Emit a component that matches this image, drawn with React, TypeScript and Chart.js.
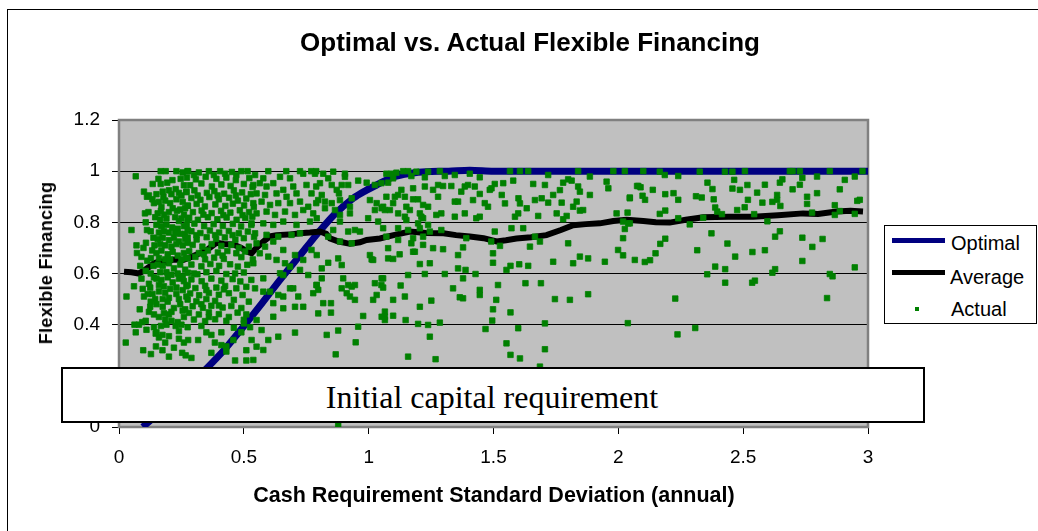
import React, { useEffect, useRef } from "react";
import { Chart, registerables } from "chart.js";

Chart.register(...registerables);

const titleText = "Optimal vs. Actual Flexible Financing";
const xTitle = "Cash Requirement Standard Deviation (annual)";
const yTitle = "Flexible Financing";
const boxText = "Initial capital requirement";

const xTickValues = [0, 0.5, 1, 1.5, 2, 2.5, 3];
const xTickLabels = ["0", "0.5", "1", "1.5", "2", "2.5", "3"];
const yTickValues = [0, 0.2, 0.4, 0.6, 0.8, 1, 1.2];
const yTickLabels = ["0", "0.2", "0.4", "0.6", "0.8", "1", "1.2"];

const optimalX = [0.095, 0.2, 0.3, 0.356, 0.42, 0.498, 0.57, 0.645, 0.72, 0.79, 0.86, 0.938, 0.99, 1.03, 1.1, 1.17, 1.23, 1.32, 1.405, 1.5, 2.0, 2.5, 3.0];
const optimalY = [0.0, 0.09, 0.18, 0.234, 0.3, 0.392, 0.48, 0.575, 0.665, 0.75, 0.828, 0.894, 0.925, 0.945, 0.978, 0.992, 0.998, 1.0, 1.004, 1.0, 1.0, 1.0, 1.0];

const averageX = [0.02, 0.05, 0.08, 0.1, 0.12, 0.14, 0.164, 0.19, 0.22, 0.257, 0.29, 0.324, 0.35, 0.39, 0.42, 0.458, 0.49, 0.515, 0.531, 0.55, 0.578, 0.605, 0.631, 0.68, 0.725, 0.765, 0.805, 0.83, 0.845, 0.88, 0.925, 0.965, 0.992, 1.045, 1.1, 1.165, 1.23, 1.3, 1.35, 1.405, 1.46, 1.512, 1.55, 1.592, 1.65, 1.712, 1.77, 1.819, 1.87, 1.926, 1.98, 2.033, 2.1, 2.15, 2.206, 2.27, 2.34, 2.44, 2.54, 2.64, 2.74, 2.8, 2.874, 2.93, 2.98];
const averageY = [0.607, 0.605, 0.6, 0.612, 0.625, 0.64, 0.648, 0.645, 0.655, 0.653, 0.665, 0.679, 0.69, 0.72, 0.715, 0.713, 0.7, 0.685, 0.679, 0.7, 0.725, 0.745, 0.75, 0.752, 0.757, 0.76, 0.764, 0.755, 0.737, 0.725, 0.716, 0.722, 0.731, 0.737, 0.75, 0.764, 0.758, 0.757, 0.75, 0.745, 0.738, 0.725, 0.73, 0.737, 0.742, 0.75, 0.77, 0.789, 0.793, 0.796, 0.805, 0.81, 0.805, 0.8, 0.799, 0.81, 0.82, 0.822, 0.822, 0.828, 0.835, 0.833, 0.842, 0.845, 0.842];

const actualBandA: number[][] = [
  [0.067, 0.98], [0.05, 0.77], [0.03, 0.51], [0.027, 0.33], [0.07, 0.71], [0.072, 0.68], [0.06, 0.55], [0.062, 0.4], [0.067, 0.37],
  [0.1, 0.92], [0.098, 0.7], [0.097, 0.3], [0.128, 0.285], [0.104, 0.835], [0.107, 0.8], [0.112, 0.77], [0.127, 0.765], [0.134, 0.89],
  [0.12, 0.905], [0.112, 0.9], [0.14, 0.875], [0.085, 0.63], [0.107, 0.61], [0.127, 0.6], [0.09, 0.58], [0.12, 0.56], [0.14, 0.585],
  [0.095, 0.54], [0.134, 0.52], [0.1, 0.51], [0.127, 0.49], [0.12, 0.45], [0.14, 0.44], [0.08, 0.4], [0.093, 0.41], [0.107, 0.415],
  [0.14, 0.39], [0.147, 0.365], [0.138, 0.74], [0.133, 0.69], [0.113, 0.65], [0.128, 0.66], [0.138, 0.63], [0.09, 0.665], [0.115, 0.52],
  [0.125, 0.47], [0.148, 0.315], [0.11, 0.38], [0.135, 0.95], [0.145, 0.82], [0.118, 0.84], [0.142, 0.71], [0.108, 0.72], [0.125, 0.545],
  [0.145, 0.5], [0.083, 0.46],
];

const actualBandB: number[][] = [
  [0.167, 1.0], [0.187, 1.0], [0.23, 1.0], [0.274, 1.0], [0.255, 0.995],
  [0.167, 0.95], [0.193, 0.955], [0.214, 0.965], [0.247, 0.97], [0.26, 0.945], [0.227, 0.93], [0.2, 0.925], [0.175, 0.92], [0.15, 0.91], [0.24, 0.915], [0.27, 0.92],
  [0.16, 0.88], [0.185, 0.885], [0.205, 0.875], [0.23, 0.89], [0.255, 0.88], [0.275, 0.865], [0.17, 0.86], [0.215, 0.855], [0.245, 0.85],
  [0.155, 0.835], [0.18, 0.83], [0.2, 0.84], [0.225, 0.82], [0.26, 0.83], [0.275, 0.81], [0.165, 0.81], [0.24, 0.805],
  [0.15, 0.79], [0.17, 0.785], [0.19, 0.79], [0.213, 0.78], [0.235, 0.775], [0.26, 0.785], [0.275, 0.77], [0.2, 0.76], [0.245, 0.755], [0.16, 0.76],
  [0.155, 0.735], [0.175, 0.74], [0.2, 0.73], [0.22, 0.74], [0.24, 0.725], [0.265, 0.735], [0.185, 0.71], [0.21, 0.705], [0.255, 0.71], [0.275, 0.72],
  [0.15, 0.68], [0.17, 0.69], [0.195, 0.675], [0.215, 0.685], [0.235, 0.67], [0.26, 0.68], [0.275, 0.66], [0.185, 0.655],
  [0.155, 0.635], [0.175, 0.63], [0.2, 0.64], [0.22, 0.62], [0.245, 0.635], [0.265, 0.615], [0.19, 0.605], [0.235, 0.6],
  [0.15, 0.58], [0.17, 0.575], [0.195, 0.585], [0.215, 0.565], [0.24, 0.58], [0.26, 0.57], [0.275, 0.555], [0.18, 0.55],
  [0.16, 0.53], [0.185, 0.525], [0.205, 0.54], [0.23, 0.52], [0.255, 0.535], [0.27, 0.51], [0.2, 0.505],
  [0.15, 0.48], [0.175, 0.47], [0.195, 0.49], [0.22, 0.465], [0.245, 0.48], [0.265, 0.46], [0.21, 0.45],
  [0.16, 0.43], [0.185, 0.42], [0.2, 0.44], [0.235, 0.41], [0.26, 0.43], [0.25, 0.4], [0.19, 0.4], [0.227, 0.395], [0.2, 0.355],
  [0.24, 0.345], [0.22, 0.31], [0.267, 0.28], [0.174, 0.36], [0.16, 0.35], [0.15, 0.37], [0.174, 0.3], [0.253, 0.29], [0.2, 0.275], [0.26, 0.33],
  [0.158, 0.97], [0.178, 0.9], [0.21, 0.91], [0.25, 0.905], [0.168, 0.845], [0.232, 0.845], [0.265, 0.855], [0.19, 0.815], [0.25, 0.815],
  [0.18, 0.765], [0.225, 0.76], [0.265, 0.755], [0.165, 0.715], [0.23, 0.715], [0.16, 0.66], [0.205, 0.655], [0.25, 0.655], [0.165, 0.605],
  [0.21, 0.595], [0.255, 0.59], [0.16, 0.555], [0.23, 0.545], [0.175, 0.5], [0.24, 0.5], [0.18, 0.445], [0.255, 0.455], [0.21, 0.415],
  [0.168, 0.395], [0.24, 0.375], [0.185, 0.33],
];

const actualBandC: number[][] = [
  [0.277, 1.0], [0.32, 0.995], [0.36, 1.0], [0.405, 1.0], [0.452, 0.997], [0.49, 1.0], [0.515, 1.0],
  [0.272, 0.975], [0.308, 0.968], [0.347, 0.978], [0.39, 0.97], [0.43, 0.975], [0.468, 0.965], [0.522, 0.973],
  [0.285, 0.945], [0.33, 0.952], [0.372, 0.94], [0.41, 0.948], [0.447, 0.942], [0.5, 0.95], [0.535, 0.938],
  [0.27, 0.918], [0.302, 0.925], [0.352, 0.915], [0.382, 0.922], [0.421, 0.912], [0.46, 0.925], [0.493, 0.917], [0.528, 0.91],
  [0.29, 0.895], [0.326, 0.888], [0.362, 0.899], [0.4, 0.89], [0.441, 0.896], [0.476, 0.885], [0.51, 0.893],
  [0.276, 0.865], [0.311, 0.872], [0.344, 0.862], [0.386, 0.87], [0.426, 0.864], [0.456, 0.873], [0.501, 0.866], [0.54, 0.86],
  [0.296, 0.84], [0.331, 0.846], [0.371, 0.836], [0.409, 0.845], [0.446, 0.838], [0.484, 0.847], [0.521, 0.84],
  [0.281, 0.818], [0.316, 0.81], [0.356, 0.82], [0.394, 0.812], [0.431, 0.819], [0.471, 0.81], [0.506, 0.817], [0.534, 0.822],
  [0.271, 0.79], [0.302, 0.795], [0.341, 0.785], [0.379, 0.793], [0.416, 0.786], [0.456, 0.794], [0.489, 0.784], [0.53, 0.79],
  [0.29, 0.765], [0.326, 0.758], [0.364, 0.768], [0.401, 0.76], [0.44, 0.766], [0.48, 0.757], [0.516, 0.764],
  [0.275, 0.74], [0.311, 0.733], [0.351, 0.742], [0.389, 0.735], [0.424, 0.741], [0.466, 0.732], [0.5, 0.738], [0.541, 0.743],
  [0.295, 0.712], [0.334, 0.705], [0.371, 0.715], [0.41, 0.708], [0.45, 0.712], [0.52, 0.705],
  [0.281, 0.687], [0.32, 0.68], [0.356, 0.69], [0.396, 0.682], [0.434, 0.688], [0.47, 0.679], [0.505, 0.686],
  [0.27, 0.66], [0.306, 0.665], [0.345, 0.655], [0.381, 0.662], [0.42, 0.657], [0.49, 0.664], [0.536, 0.655],
  [0.29, 0.635], [0.33, 0.628], [0.366, 0.637], [0.401, 0.63], [0.445, 0.636], [0.476, 0.627], [0.514, 0.634],
  [0.276, 0.603], [0.314, 0.597], [0.35, 0.605], [0.43, 0.598], [0.5, 0.604],
  [0.29, 0.577], [0.331, 0.57], [0.37, 0.58], [0.41, 0.572], [0.455, 0.578], [0.486, 0.569], [0.53, 0.575],
  [0.27, 0.55], [0.306, 0.543], [0.345, 0.552], [0.39, 0.545], [0.425, 0.551], [0.47, 0.542], [0.51, 0.548],
  [0.285, 0.522], [0.321, 0.515], [0.36, 0.524], [0.4, 0.517], [0.44, 0.523], [0.495, 0.516],
  [0.275, 0.498], [0.31, 0.491], [0.35, 0.5], [0.385, 0.493], [0.46, 0.497], [0.52, 0.49],
  [0.295, 0.472], [0.336, 0.466], [0.37, 0.474], [0.415, 0.467], [0.45, 0.473], [0.49, 0.465],
  [0.28, 0.446], [0.32, 0.44], [0.36, 0.448], [0.4, 0.441], [0.475, 0.447], [0.51, 0.44],
  [0.3, 0.42], [0.345, 0.414], [0.385, 0.421], [0.43, 0.415], [0.5, 0.419],
  [0.275, 0.39], [0.33, 0.395], [0.46, 0.388],
  [0.277, 0.34], [0.317, 0.34], [0.35, 0.37], [0.37, 0.36], [0.384, 0.33], [0.41, 0.37], [0.41, 0.32], [0.43, 0.315], [0.29, 0.27],
  [0.465, 0.26], [0.51, 0.26], [0.51, 0.3], [0.49, 0.37], [0.5, 0.405], [0.525, 0.39], [0.458, 0.34], [0.43, 0.295], [0.37, 0.29],
  [0.3, 0.985], [0.38, 0.985], [0.425, 0.99], [0.47, 0.985], [0.315, 0.905], [0.395, 0.905], [0.468, 0.905], [0.338, 0.83], [0.418, 0.828],
  [0.495, 0.828], [0.31, 0.75], [0.385, 0.75], [0.455, 0.75], [0.34, 0.675], [0.415, 0.67], [0.48, 0.7], [0.3, 0.6], [0.39, 0.61],
  [0.465, 0.6], [0.35, 0.535], [0.42, 0.538], [0.33, 0.48], [0.4, 0.475], [0.36, 0.43], [0.44, 0.43],
];

const actualBandD: number[][] = [
  [0.598, 1.0], [0.67, 1.0], [0.725, 1.0], [0.77, 1.0], [0.545, 0.985], [0.578, 0.972], [0.645, 0.978], [0.685, 0.972], [0.738, 0.99], [0.785, 0.99],
  [0.538, 0.946], [0.564, 0.953], [0.591, 0.94], [0.618, 0.953], [0.658, 0.927], [0.698, 0.94], [0.751, 0.946], [0.79, 0.94],
  [0.551, 0.913], [0.585, 0.907], [0.631, 0.913], [0.671, 0.9], [0.711, 0.913], [0.771, 0.913],
  [0.538, 0.875], [0.571, 0.881], [0.605, 0.868], [0.638, 0.875], [0.685, 0.875], [0.725, 0.881], [0.758, 0.861], [0.79, 0.875],
  [0.551, 0.835], [0.591, 0.842], [0.625, 0.829], [0.665, 0.842], [0.705, 0.829], [0.738, 0.848], [0.778, 0.835],
  [0.531, 0.796], [0.578, 0.796], [0.618, 0.79], [0.658, 0.803], [0.711, 0.79], [0.765, 0.803],
  [0.545, 0.757], [0.591, 0.751], [0.638, 0.744], [0.691, 0.751], [0.725, 0.757],
  [0.551, 0.718], [0.585, 0.705], [0.618, 0.725], [0.564, 0.679], [0.598, 0.666], [0.658, 0.692], [0.705, 0.672], [0.738, 0.653], [0.771, 0.692],
  [0.538, 0.64], [0.631, 0.653], [0.665, 0.64], [0.685, 0.627], [0.645, 0.601], [0.658, 0.594], [0.578, 0.581], [0.545, 0.542], [0.605, 0.529],
  [0.638, 0.516], [0.658, 0.51], [0.685, 0.542], [0.698, 0.542], [0.718, 0.51], [0.778, 0.523], [0.791, 0.555], [0.618, 0.484], [0.658, 0.464],
  [0.705, 0.47], [0.738, 0.47], [0.618, 0.431], [0.551, 0.418], [0.571, 0.379], [0.705, 0.369], [0.638, 0.353], [0.598, 0.34], [0.531, 0.34],
  [0.538, 0.262], [0.578, 0.301], [0.551, 0.314], [0.725, 0.614], [0.758, 0.594], [0.578, 0.529],
];

const actualBandE: number[][] = [
  [0.79, 1.0], [0.818, 0.99], [0.858, 0.998], [0.905, 0.99], [0.838, 0.972], [0.905, 0.978], [0.805, 0.953], [0.852, 0.946], [0.892, 0.946],
  [0.918, 0.946], [0.958, 0.963], [0.992, 0.955], [1.025, 0.946], [0.872, 0.927], [0.881, 0.913], [0.812, 0.907], [0.798, 0.887], [0.825, 0.881],
  [0.852, 0.875], [0.885, 0.887], [0.932, 0.894], [1.005, 0.887], [1.032, 0.875], [0.825, 0.855], [0.865, 0.848], [0.925, 0.861], [1.025, 0.848],
  [1.052, 0.855], [0.885, 0.829], [0.925, 0.835], [0.998, 0.816], [0.792, 0.816], [0.885, 0.803], [1.038, 0.803], [0.858, 0.77], [0.918, 0.764],
  [0.945, 0.77], [0.965, 0.764], [0.838, 0.744], [0.885, 0.725], [0.932, 0.718], [1.005, 0.672], [1.012, 0.655], [1.018, 0.653], [0.792, 0.672],
  [0.812, 0.62], [0.838, 0.642], [0.878, 0.659], [0.892, 0.633], [0.812, 0.581], [0.898, 0.581], [0.792, 0.555], [0.798, 0.536], [0.892, 0.542],
  [0.918, 0.555], [0.932, 0.549], [0.945, 0.555], [0.912, 0.523], [0.925, 0.51], [0.945, 0.497], [1.018, 0.497], [1.032, 0.516], [1.052, 0.581],
  [1.025, 0.562], [0.818, 0.484], [0.849, 0.484], [0.798, 0.444], [0.849, 0.447], [0.978, 0.434], [0.958, 0.392], [0.832, 0.36], [0.878, 0.377],
  [0.948, 0.331], [0.868, 0.284], [1.052, 0.431], [0.878, 0.01],
];

const actualBandF: number[][] = [
  [1.071, 0.99], [1.091, 0.99], [1.111, 0.994], [1.138, 1.0], [1.158, 1.0], [1.191, 0.998], [1.238, 0.998], [1.285, 1.0], [1.051, 0.953],
  [1.078, 0.955], [1.098, 0.972], [1.171, 0.981], [1.225, 0.976], [1.305, 0.981], [1.345, 0.985], [1.405, 0.99], [1.445, 0.976], [1.505, 0.95],
  [1.492, 0.933], [1.071, 0.9], [1.098, 0.875], [1.118, 0.907], [1.131, 0.927], [1.178, 0.933], [1.225, 0.94], [1.258, 0.927], [1.278, 0.946],
  [1.298, 0.942], [1.331, 0.942], [1.371, 0.92], [1.385, 0.94], [1.398, 0.946], [1.425, 0.94], [1.445, 0.911], [1.485, 0.927], [1.105, 0.9],
  [1.145, 0.9], [1.178, 0.89], [1.198, 0.89], [1.278, 0.9], [1.345, 0.881], [1.358, 0.881], [1.418, 0.887], [1.465, 0.875], [1.478, 0.861],
  [1.058, 0.861], [1.065, 0.848], [1.085, 0.848], [1.118, 0.835], [1.151, 0.861], [1.165, 0.848], [1.218, 0.868], [1.238, 0.861], [1.205, 0.835],
  [1.271, 0.829], [1.291, 0.835], [1.345, 0.822], [1.385, 0.835], [1.431, 0.816], [1.445, 0.822], [1.145, 0.822], [1.151, 0.809], [1.211, 0.822],
  [1.218, 0.816], [1.198, 0.796], [1.238, 0.79], [1.058, 0.777], [1.118, 0.777], [1.158, 0.77], [1.205, 0.777], [1.245, 0.764], [1.291, 0.77],
  [1.071, 0.744], [1.118, 0.731], [1.178, 0.738], [1.218, 0.744], [1.505, 0.764], [1.491, 0.725], [1.391, 0.738], [1.171, 0.718], [1.218, 0.712],
  [1.078, 0.699], [1.258, 0.699], [1.298, 0.695], [1.378, 0.702], [1.498, 0.679], [1.178, 0.685], [1.185, 0.685], [1.124, 0.675], [1.078, 0.659],
  [1.098, 0.657], [1.358, 0.672], [1.205, 0.637], [1.245, 0.64], [1.498, 0.642], [1.358, 0.62], [1.388, 0.614], [1.158, 0.594], [1.225, 0.598],
  [1.305, 0.598], [1.428, 0.598], [1.378, 0.581], [1.058, 0.581], [1.051, 0.555], [1.058, 0.545], [1.128, 0.553], [1.338, 0.542], [1.445, 0.536],
  [1.445, 0.516], [1.518, 0.555], [1.098, 0.497], [1.145, 0.51], [1.251, 0.494], [1.365, 0.507], [1.378, 0.503], [1.511, 0.497], [1.205, 0.47],
  [1.065, 0.451], [1.065, 0.431], [1.065, 0.418], [1.098, 0.435], [1.498, 0.46], [1.148, 0.418], [1.495, 0.416], [1.198, 0.403], [1.238, 0.399],
  [1.285, 0.408], [1.468, 0.383], [1.245, 0.353], [1.158, 0.275], [1.268, 0.265],
];

const actualBandG: number[][] = [
  [1.566, 1.0], [1.606, 1.0], [1.639, 1.0], [1.719, 0.985], [1.839, 1.0], [1.886, 0.979], [1.98, 1.0], [1.579, 0.963], [1.539, 0.953],
  [1.659, 0.95], [1.706, 0.946], [1.779, 0.955], [1.799, 0.968], [1.813, 0.963], [1.953, 0.959], [1.96, 0.933], [1.533, 0.907], [1.6, 0.894],
  [1.633, 0.855], [1.666, 0.887], [1.693, 0.894], [1.719, 0.877], [1.739, 0.907], [1.773, 0.877], [1.766, 0.926], [1.839, 0.94], [1.833, 0.881],
  [1.846, 0.92], [1.819, 0.861], [1.886, 0.907], [1.546, 0.874], [1.606, 0.874], [1.586, 0.822], [1.599, 0.835], [1.679, 0.825], [1.753, 0.835],
  [1.779, 0.812], [1.793, 0.825], [1.846, 0.846], [1.859, 0.848], [1.666, 0.744], [1.686, 0.725], [1.799, 0.718], [1.846, 0.666], [1.879, 0.659],
  [1.819, 0.64], [1.739, 0.646], [1.946, 0.646], [1.999, 0.692], [1.993, 0.835], [1.879, 0.519], [1.806, 0.497], [1.746, 0.5], [1.706, 0.405],
  [1.686, 0.236], [1.706, 0.304], [1.552, 0.327], [1.568, 0.282], [1.606, 0.268], [1.599, 0.386], [1.568, 0.448], [1.603, 0.636], [1.639, 0.63],
  [1.69, 0.562], [1.628, 0.562], [1.552, 0.614], [1.568, 0.63], [1.619, 0.777], [1.646, 0.705], [1.572, 0.777], [1.526, 0.708],
];

const actualBandH: number[][] = [
  [2.026, 1.0], [2.1, 1.0], [2.166, 0.998], [2.186, 0.985], [2.24, 0.981], [2.326, 0.998], [2.427, 0.998], [2.457, 0.998], [2.507, 1.0],
  [2.687, 1.0], [2.698, 1.0], [2.727, 1.0], [2.847, 1.0], [2.978, 1.0], [2.357, 0.955], [2.377, 0.93], [2.464, 0.966], [2.457, 0.932],
  [2.487, 0.927], [2.517, 0.946], [2.587, 0.947], [2.647, 0.955], [2.657, 0.968], [2.698, 0.929], [2.727, 0.947], [2.737, 0.974], [2.796, 0.979],
  [2.887, 0.929], [2.907, 0.966], [2.947, 0.979], [2.075, 0.942], [2.089, 0.937], [2.138, 0.927], [2.046, 0.897], [2.097, 0.904], [2.107, 0.888],
  [2.188, 0.91], [2.221, 0.914], [2.24, 0.888], [2.311, 0.902], [2.334, 0.897], [2.382, 0.89], [2.519, 0.888], [2.556, 0.916], [2.577, 0.877],
  [2.617, 0.88], [2.636, 0.907], [2.636, 0.888], [2.649, 0.864], [2.756, 0.9], [2.756, 0.872], [2.796, 0.914], [2.867, 0.867], [2.887, 0.844],
  [2.957, 0.884], [2.967, 0.888], [2.388, 0.858], [2.396, 0.842], [2.415, 0.832], [2.476, 0.848], [2.506, 0.859], [2.037, 0.838], [2.166, 0.833],
  [2.188, 0.846], [2.34, 0.818], [2.24, 0.816], [2.776, 0.838], [2.867, 0.829], [2.947, 0.833], [2.544, 0.832], [2.597, 0.804], [2.046, 0.796],
  [2.026, 0.774], [2.019, 0.738], [2.019, 0.671], [2.066, 0.653], [2.106, 0.645], [2.127, 0.652], [2.149, 0.679], [2.168, 0.716], [2.188, 0.736],
  [2.286, 0.792], [2.316, 0.691], [2.373, 0.757], [2.437, 0.717], [2.468, 0.666], [2.537, 0.684], [2.587, 0.691], [2.628, 0.744], [2.647, 0.765],
  [2.737, 0.74], [2.777, 0.704], [2.818, 0.735], [2.737, 0.649], [2.947, 0.624], [2.388, 0.627], [2.428, 0.617], [2.356, 0.597], [2.428, 0.564],
  [2.536, 0.564], [2.547, 0.572], [2.617, 0.603], [2.628, 0.617], [2.847, 0.598], [2.858, 0.589], [2.836, 0.504], [2.228, 0.502], [2.038, 0.406],
  [2.237, 0.362], [2.308, 0.387], [2.046, 0.894], [2.08, 0.942], [2.019, 0.803], [2.04, 0.796],
];

const actualPoints = [
  ...actualBandA, ...actualBandB, ...actualBandC, ...actualBandD,
  ...actualBandE, ...actualBandF, ...actualBandG, ...actualBandH,
];

const FONT = "'Liberation Sans', Arial, Helvetica, sans-serif";

const plotAreaPlugin = {
  id: "plotArea",
  beforeDraw(chart: any) {
    const { ctx, chartArea } = chart;
    const { left, top, right, bottom } = chartArea;
    ctx.save();
    ctx.fillStyle = "#C0C0C0";
    ctx.fillRect(left, top, right - left, bottom - top);
    ctx.restore();
  },
  beforeDatasetsDraw(chart: any) {
    const { ctx, chartArea } = chart;
    const { left, top, right, bottom } = chartArea;
    ctx.save();
    ctx.strokeStyle = "#808080";
    ctx.lineWidth = 2.5;
    ctx.strokeRect(left, top, right - left, bottom - top);
    ctx.restore();
  },
};

function ChartCanvas() {
  const ref = useRef<HTMLCanvasElement | null>(null);
  useEffect(() => {
    if (!ref.current) return;
    Chart.defaults.font.family = FONT;
    const chart = new Chart(ref.current, {
      type: "scatter",
      data: {
        datasets: [
          {
            label: "Optimal",
            data: optimalX.map((x, i) => ({ x, y: optimalY[i] })),
            showLine: true,
            borderColor: "#000080",
            backgroundColor: "#000080",
            borderWidth: 7,
            pointRadius: 0,
            tension: 0.3,
            order: 3,
          },
          {
            label: "Average",
            data: averageX.map((x, i) => ({ x, y: averageY[i] })),
            showLine: true,
            borderColor: "#000000",
            backgroundColor: "#000000",
            borderWidth: 6,
            pointRadius: 0,
            order: 2,
          },
          {
            label: "Actual",
            data: actualPoints.map(([x, y]) => ({ x, y })),
            showLine: false,
            pointStyle: "rect",
            pointRadius: 3.9,
            borderWidth: 0.8,
            borderColor: "#008000",
            backgroundColor: "#008000",
            order: 1,
          },
        ],
      },
      options: {
        responsive: false,
        animation: false,
        devicePixelRatio: 1,
        layout: { padding: { left: 59, top: 120, right: 170, bottom: 64 } },
        plugins: { legend: { display: false }, title: { display: false }, tooltip: { enabled: false } },
        scales: {
          x: {
            type: "linear",
            min: 0,
            max: 3,
            afterBuildTicks: (s: any) => {
              s.ticks = xTickValues.map((v) => ({ value: v }));
            },
            afterFit: (s: any) => {
              s.height = 40;
            },
            ticks: {
              callback: (v: any) => xTickLabels[xTickValues.indexOf(Number(v))] ?? "",
              color: "#000",
              font: { size: 19, family: FONT },
              padding: 12,
              maxRotation: 0,
            },
            grid: { drawOnChartArea: false, drawTicks: true, tickLength: 7, color: "#000" },
            border: { color: "#000", width: 1 },
          },
          y: {
            type: "linear",
            min: 0,
            max: 1.2,
            afterBuildTicks: (s: any) => {
              s.ticks = yTickValues.map((v) => ({ value: v }));
            },
            afterFit: (s: any) => {
              s.width = 60;
            },
            ticks: {
              callback: (v: any) => {
                const i = yTickValues.findIndex((t) => Math.abs(t - Number(v)) < 1e-6);
                return i >= 0 ? yTickLabels[i] : "";
              },
              color: "#000",
              font: { size: 19, family: FONT },
              padding: 12,
            },
            grid: { drawOnChartArea: true, drawTicks: true, tickLength: 7, color: "#000", lineWidth: 1 },
            border: { color: "#808080", width: 2 },
          },
        },
      },
      plugins: [plotAreaPlugin],
    });
    return () => chart.destroy();
  }, []);
  return (
    <canvas
      ref={ref}
      width={1038}
      height={531}
      style={{ position: "absolute", left: 0, top: 0, width: 1038, height: 531, display: "block" }}
    />
  );
}

const abs = (s: React.CSSProperties): React.CSSProperties => ({ position: "absolute", whiteSpace: "nowrap", lineHeight: 1, ...s });

export default function App() {
  return (
    <div style={{ position: "absolute", left: 0, top: 0, width: 1038, height: 531, overflow: "hidden", background: "#fff" }}>
      <div style={{ position: "absolute", left: 7, top: 9, width: 1100, height: 600, border: "1px solid #000" }} />
      <ChartCanvas />
      <div style={abs({ left: 530, top: 28.5, transform: "translateX(-50%)", fontFamily: FONT, fontWeight: "bold", fontSize: 26, color: "#000" })}>
        {titleText}
      </div>
      <div style={abs({ left: 494, top: 484.5, transform: "translateX(-50%)", fontFamily: FONT, fontWeight: "bold", fontSize: 21.5, color: "#000" })}>
        {xTitle}
      </div>
      <div
        style={abs({
          left: 46,
          top: 263,
          transform: "translate(-50%, -50%) rotate(-90deg)",
          fontFamily: FONT,
          fontWeight: "bold",
          fontSize: 18,
          letterSpacing: 0.3,
          color: "#000",
        })}
      >
        {yTitle}
      </div>
      {/* Legend */}
      <div style={{ position: "absolute", left: 884, top: 225, width: 153, height: 99, border: "1px solid #000", background: "#fff", boxSizing: "border-box" }} />
      <div style={{ position: "absolute", left: 892, top: 238.3, width: 53, height: 5, background: "#000080" }} />
      <div style={{ position: "absolute", left: 892, top: 270.3, width: 53, height: 5, background: "#000" }} />
      <div style={{ position: "absolute", left: 914.5, top: 306.5, width: 4.5, height: 4.5, background: "#008000" }} />
      <div style={abs({ left: 951, top: 233.2, fontFamily: FONT, fontSize: 20, color: "#000" })}>Optimal</div>
      <div style={abs({ left: 950, top: 266.9, fontFamily: FONT, fontSize: 20, color: "#000" })}>Average</div>
      <div style={abs({ left: 951, top: 299, fontFamily: FONT, fontSize: 20, color: "#000" })}>Actual</div>
      {/* Overlay box */}
      <div style={{ position: "absolute", left: 61, top: 367, width: 864, height: 56, border: "2px solid #000", background: "#fff", boxSizing: "border-box" }} />
      <div style={abs({ left: 492, top: 380.8, transform: "translateX(-50%)", fontFamily: "'Liberation Serif', 'Times New Roman', serif", fontSize: 32, color: "#000" })}>
        {boxText}
      </div>
    </div>
  );
}
